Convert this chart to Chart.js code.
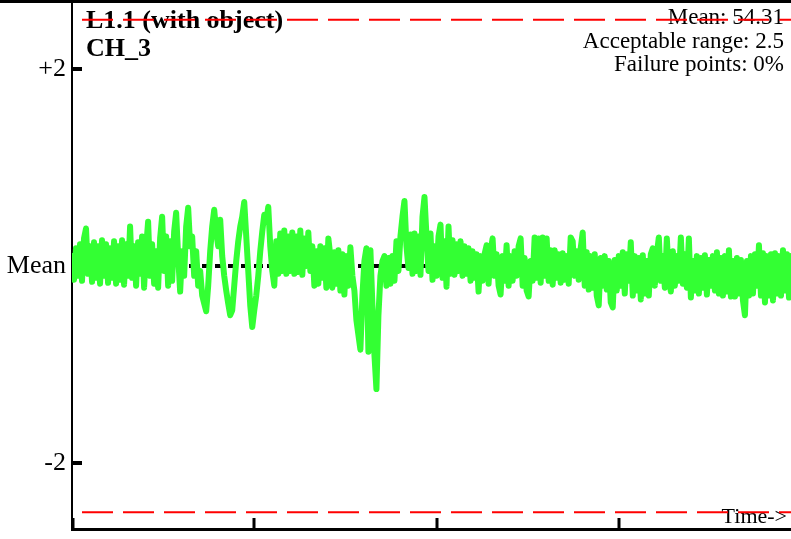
<!DOCTYPE html>
<html>
<head>
<meta charset="utf-8">
<style>
  html, body { margin: 0; padding: 0; background: #fff; }
  #chart { display: block; }
</style>
</head>
<body>
<canvas id="chart" width="791" height="539"></canvas>
<script src="https://cdn.jsdelivr.net/npm/chart.js@4/dist/chart.umd.min.js"></script>
<script>
// deviation from mean, in the units of the y axis (one sample per step)
const signal = [
  0.10, -0.14, 0.18, -0.10, 0.22, -0.15, 0.28, 0.38, -0.08, 0.20,
  -0.16, 0.24, -0.12, 0.20, -0.18, 0.26, -0.10, 0.22, -0.17, 0.18,
  -0.12, 0.25, -0.18, 0.20, -0.14, 0.26, -0.19, 0.22, -0.10, 0.40,
  -0.12, 0.20, -0.20, 0.24, -0.08, 0.30, -0.22, 0.18, 0.45, -0.10,
  0.22, -0.18, 0.15, -0.22, 0.28, 0.50, -0.05, 0.30, -0.20, 0.25,
  -0.15, 0.35, 0.54, 0.10, -0.26, 0.15, -0.10, 0.40, 0.59, 0.20,
  0.30, -0.10, 0.15, -0.20, -0.05, -0.30, -0.38, -0.46, -0.20, 0.15,
  0.40, 0.57, 0.35, 0.20, 0.47, 0.10, -0.10, -0.25, -0.38, -0.50,
  -0.45, -0.20, 0.05, 0.25, 0.40, 0.50, 0.65, 0.30, -0.05, -0.40,
  -0.62, -0.45, -0.30, -0.10, 0.15, 0.35, 0.52, 0.45, 0.60, 0.20,
  -0.05, -0.20, 0.25, -0.08, 0.33, -0.05, 0.36, -0.08, 0.30, -0.05,
  0.34, -0.08, 0.30, -0.06, 0.36, -0.09, 0.28, 0.00, 0.34, -0.05,
  0.20, -0.20, 0.15, -0.18, 0.20, -0.12, 0.18, -0.22, 0.28, 0.10,
  -0.22, 0.14, -0.18, 0.16, -0.25, 0.12, -0.29, 0.10, -0.20, 0.19,
  -0.10, -0.25, -0.55, -0.70, -0.85, -0.30, 0.05, 0.18, -0.87, 0.16,
  -0.40, -0.90, -1.25, -0.50, -0.10, 0.05, 0.10, -0.20, 0.08, -0.18,
  0.10, -0.15, 0.25, -0.05, 0.30, 0.50, 0.66, 0.20, -0.02, 0.32,
  -0.08, 0.33, -0.05, 0.30, -0.09, 0.50, 0.70, 0.30, -0.05, 0.33,
  -0.14, 0.20, -0.10, 0.30, 0.42, -0.12, 0.25, -0.21, 0.40, -0.08,
  0.26, -0.09, 0.22, -0.05, 0.25, -0.10, 0.20, -0.08, 0.18, -0.15,
  0.15, -0.12, 0.12, -0.26, 0.10, -0.15, 0.12, 0.21, -0.18, 0.15,
  0.28, -0.10, 0.12, -0.20, -0.29, 0.10, -0.15, 0.21, -0.20, 0.10,
  -0.15, 0.15, -0.10, 0.20, 0.28, -0.20, 0.08, -0.25, -0.31, 0.05,
  -0.15, 0.29, -0.12, 0.28, -0.17, 0.29, -0.10, 0.28, -0.15, 0.16,
  -0.19, 0.16, -0.12, 0.12, -0.17, 0.13, -0.14, 0.10, -0.18, 0.29,
  0.25, -0.10, 0.15, -0.14, 0.18, 0.34, -0.20, 0.14, -0.24, 0.10,
  -0.22, 0.12, -0.30, -0.40, 0.08, -0.20, 0.10, -0.24, 0.05, -0.37,
  -0.42, 0.06, -0.25, 0.10, -0.20, 0.14, -0.28, 0.12, -0.15, 0.24,
  -0.30, 0.10, -0.25, 0.08, -0.34, 0.11, -0.28, 0.05, -0.30, 0.12,
  0.18, -0.20, 0.12, 0.29, -0.15, 0.10, -0.22, 0.28, -0.10, -0.26,
  0.15, -0.20, 0.10, -0.15, 0.29, -0.18, 0.12, -0.22, 0.28, -0.32,
  0.05, -0.25, 0.10, -0.28, 0.08, -0.22, 0.11, -0.29, 0.06, -0.20,
  0.10, -0.25, 0.14, -0.28, 0.08, -0.30, 0.10, -0.26, 0.16, -0.31,
  0.05, -0.31, 0.08, -0.28, 0.06, -0.35, -0.50, 0.05, -0.30, 0.10,
  -0.28, 0.12, -0.20, 0.21, -0.30, 0.13, -0.37, 0.10, -0.30, 0.12,
  -0.35, 0.13, -0.28, 0.10, -0.30, 0.16, -0.25, 0.12, -0.32, 0.10
]
const meanLevel = 0
const rangeLimit = 2.5
const yTicks = [-2, 0, 2]
const yTickLabels = ['-2', 'Mean', '+2']
const xTicks = [0, 91, 182, 273]
const titleLines = ['L1.1 (with object)', 'CH_3']
const infoLines = ['Mean: 54.31', 'Acceptable range: 2.5', 'Failure points: 0%']

const lastIndex = signal.length - 1
const flat = v => [{ x: 0, y: v }, { x: lastIndex, y: v }]
const serif = '"Liberation Serif", "Times New Roman", serif'

const overlay = {
  id: 'overlay',
  beforeDatasetsDraw(chart) {
    const ctx = chart.ctx
    const { left, right } = chart.chartArea
    ctx.save()
    ctx.fillStyle = '#000'
    ctx.textBaseline = 'alphabetic'
    ctx.textAlign = 'left'
    ctx.font = 'bold 26px ' + serif
    ctx.fillText(titleLines[0], left + 14, 28)
    ctx.fillText(titleLines[1], left + 14, 56)
    ctx.textAlign = 'right'
    ctx.font = '23px ' + serif
    infoLines.forEach((t, i) => ctx.fillText(t, right - 7, 24 + i * 23.5))
    ctx.font = '22px ' + serif
    ctx.fillText('Time->', right - 4, 523)
    ctx.restore()
  },
  afterDraw(chart) {
    const ctx = chart.ctx
    const { left, bottom } = chart.chartArea
    const x = chart.scales.x
    const y = chart.scales.y
    ctx.save()
    ctx.fillStyle = '#000'
    ctx.fillRect(0, 0, chart.width, 3)
    ctx.strokeStyle = '#000'
    ctx.lineWidth = 3
    ctx.beginPath()
    for (const t of x.ticks) {
      const px = Math.round(x.getPixelForValue(t.value)) + (t.value === 0 ? 1 : 0)
      ctx.moveTo(px, bottom - 11)
      ctx.lineTo(px, bottom)
    }
    ctx.stroke()
    ctx.lineWidth = 4
    ctx.beginPath()
    for (const t of y.ticks) {
      if (t.value === meanLevel) continue
      const py = Math.round(y.getPixelForValue(t.value))
      ctx.moveTo(left, py)
      ctx.lineTo(left + 10, py)
    }
    ctx.stroke()
    ctx.restore()
  }
}

new Chart(document.querySelector('#chart'), {
  type: 'line',
  data: {
    datasets: [
      {
        data: signal.map((v, i) => ({ x: i, y: v })),
        borderColor: '#33ff33',
        borderWidth: 6,
        borderJoinStyle: 'round',
        borderCapStyle: 'round',
        pointRadius: 0,
        order: 0
      },
      {
        data: flat(meanLevel),
        borderColor: '#000',
        borderWidth: 4,
        borderDash: [9, 4],
        pointRadius: 0,
        order: 1
      },
      {
        data: flat(rangeLimit),
        borderColor: '#ff0000',
        borderWidth: 2,
        borderDash: [31, 10],
        borderDashOffset: 31,
        pointRadius: 0,
        order: 0
      },
      {
        data: flat(-rangeLimit),
        borderColor: '#ff0000',
        borderWidth: 2,
        borderDash: [31, 10],
        borderDashOffset: 31,
        pointRadius: 0,
        order: 0
      }
    ]
  },
  options: {
    responsive: false,
    animation: false,
    devicePixelRatio: 1,
    layout: { padding: 0 },
    plugins: {
      legend: { display: false },
      tooltip: { enabled: false }
    },
    scales: {
      x: {
        type: 'linear',
        min: 0,
        max: lastIndex,
        afterBuildTicks: scale => { scale.ticks = xTicks.map(v => ({ value: v })) },
        afterFit: scale => {
          scale.height = 10
          scale.paddingLeft = 0
          scale.paddingRight = 0
        },
        ticks: { display: false },
        grid: { drawOnChartArea: false, drawTicks: false },
        border: { display: true, color: '#000', width: 3 }
      },
      y: {
        min: -2.67,
        max: 2.7,
        afterBuildTicks: scale => { scale.ticks = yTicks.map(v => ({ value: v })) },
        afterFit: scale => {
          scale.width = 72
          scale.paddingTop = 0
          scale.paddingBottom = 0
        },
        ticks: {
          autoSkip: false,
          padding: 6,
          color: '#000',
          font: { family: serif, size: 26 },
          callback: value => yTickLabels[yTicks.indexOf(value)]
        },
        grid: { drawOnChartArea: false, drawTicks: false },
        border: { display: true, color: '#000', width: 2 }
      }
    }
  },
  plugins: [overlay]
})
</script>
</body>
</html>
